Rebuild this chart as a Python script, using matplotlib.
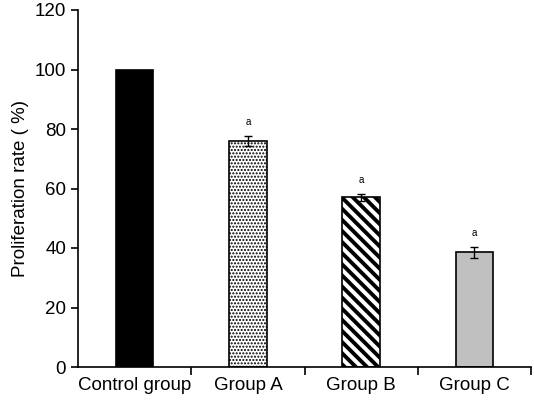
import matplotlib
matplotlib.use("Agg")
import matplotlib.pyplot as plt
import numpy as np

groups = ["Control group", "Group A", "Group B", "Group C"]
rates = [100, 76, 57, 38.5]
errors = [0, 1.6, 1.3, 1.8]
sig_marks = ["", "a", "a", "a"]

plt.rcParams["font.family"] = ["Liberation Sans", "DejaVu Sans"]

fig = plt.figure(figsize=(5.34, 4.03), dpi=100)
ax = fig.add_axes([78 / 534, 36 / 403, 453 / 534, 357 / 403])

x = np.arange(len(groups))
faces = ["black", "white", "white", "#c0c0c0"]
hatches = [None, ".....", "\\\\\\", None]
hatch_lw = [1.0, 1.0, 2.8, 1.0]
for xi, r, fc, h, hl in zip(x, rates, faces, hatches, hatch_lw):
    plt.rcParams["hatch.linewidth"] = hl
    ax.bar(xi, r, width=0.33, color=fc, edgecolor="black", linewidth=1.2,
           hatch=h)

ax.errorbar(x[1:], rates[1:], yerr=errors[1:], fmt="none", ecolor="black",
            elinewidth=1, capsize=3, capthick=1)
for xi, r, e, s in zip(x, rates, errors, sig_marks):
    if s:
        ax.text(xi, r + e + 3, s, ha="center", va="bottom", fontsize=7)

ax.set_xlim(-0.5, 3.5)
ax.set_ylim(0, 120)
ax.set_yticks(range(0, 121, 20))
ax.set_xticks([0.5, 1.5, 2.5, 3.5])
ax.set_xticklabels([])
ax.set_xticks(x, groups, minor=True)
ax.tick_params(axis="x", which="major", direction="out", length=6, width=1.2)
ax.tick_params(axis="x", which="minor", length=0, pad=7, labelsize=13.5)
ax.tick_params(axis="y", direction="out", length=5, width=1.2, labelsize=13.5)
ax.set_ylabel("Proliferation rate ( %)", fontsize=13.5, labelpad=4)
for side in ["top", "right"]:
    ax.spines[side].set_visible(False)
for side in ["left", "bottom"]:
    ax.spines[side].set_linewidth(1.2)

fig.savefig("out.png", dpi=100)
